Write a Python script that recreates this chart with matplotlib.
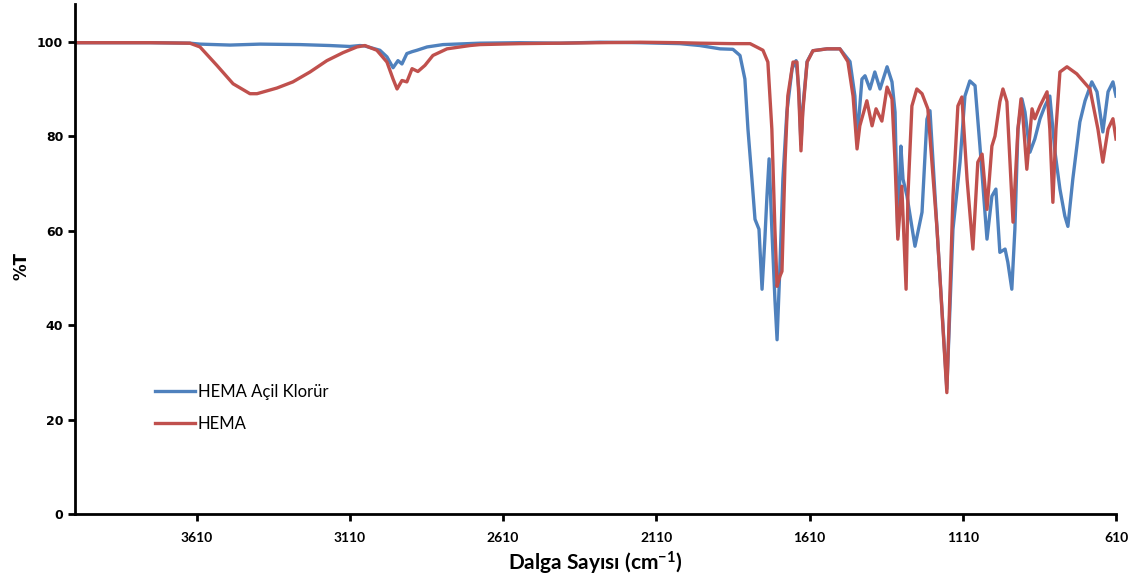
import matplotlib.pyplot as plt

# HEMA Açil Klorür (blue)
wn_acil = [4007, 3762, 3632, 3599, 3501, 3403, 3273, 3175, 3110, 3077, 3061, 3012, 2989,
           2969, 2953, 2940, 2924, 2907, 2891, 2858, 2806, 2685, 2555, 2424, 2294, 2163,
           2033, 1968, 1902, 1860, 1837, 1821, 1811, 1798, 1788, 1775, 1765, 1756, 1749,
           1742, 1733, 1723, 1716, 1707, 1697, 1684, 1667, 1654, 1645, 1638, 1632, 1618,
           1599, 1553, 1511, 1478, 1462, 1455, 1439, 1429, 1413, 1397, 1380, 1357, 1341,
           1331, 1322, 1312, 1305, 1292, 1266, 1243, 1227, 1217, 1194, 1162, 1142, 1119,
           1103, 1087, 1070, 1054, 1031, 1015, 1002, 989, 972, 963, 950, 940, 930, 917,
           907, 891, 875, 858, 842, 826, 809, 793, 777, 767, 751, 728, 711, 689, 672, 653,
           636, 620, 610]
t_acil = [99.8, 99.8, 99.7, 99.5, 99.3, 99.5, 99.4, 99.2, 99.0, 99.2, 99.1, 98.2, 96.8,
          94.5, 96.0, 95.3, 97.5, 97.9, 98.2, 98.9, 99.4, 99.7, 99.8, 99.7, 99.9, 99.8,
          99.6, 99.2, 98.5, 98.4, 97.1, 92.1, 81.5, 70.9, 62.4, 60.3, 47.6, 58.0, 67.3,
          75.2, 60.3, 45.4, 36.9, 51.8, 70.9, 85.1, 94.3, 96.0, 90.0, 78.3, 86.0, 95.8,
          98.1, 98.5, 98.5, 95.8, 88.5, 79.0, 92.1, 92.8, 90.0, 93.6, 90.0, 94.7, 91.5,
          85.1, 58.8, 77.9, 70.9, 67.3, 56.7, 63.9, 83.6, 85.4, 60.3, 26.5, 60.3, 74.5,
          88.5, 91.7, 90.7, 77.9, 58.2, 67.3, 68.8, 55.4, 56.1, 53.3, 47.6, 60.3, 81.5, 87.9,
          85.1, 76.6, 79.4, 83.7, 86.4, 88.5, 76.6, 68.8, 63.1, 60.9, 70.9, 83.0, 87.5, 91.5,
          89.4, 80.9, 89.4, 91.5, 88.5]

# HEMA (red)
wn_hema = [4007, 3762, 3632, 3599, 3544, 3491, 3436, 3413, 3348, 3296, 3240, 3185, 3132,
           3087, 3061, 3022, 2989, 2969, 2956, 2940, 2924, 2907, 2888, 2865, 2839, 2793,
           2718, 2685, 2555, 2424, 2294, 2163, 2033, 1968, 1860, 1804, 1762, 1746, 1733,
           1723, 1716, 1707, 1700, 1690, 1681, 1664, 1651, 1645, 1638, 1632, 1618, 1599,
           1553, 1511, 1485, 1468, 1455, 1446, 1423, 1406, 1393, 1374, 1357, 1341, 1331,
           1322, 1309, 1295, 1289, 1276, 1260, 1243, 1224, 1194, 1162, 1142, 1126, 1113,
           1096, 1077, 1061, 1047, 1031, 1015, 1005, 989, 979, 966, 946, 930, 920, 914, 901,
           884, 875, 858, 835, 826, 816, 806, 793, 770, 738, 695, 669, 653, 636, 620, 610]
t_hema = [99.8, 99.8, 99.7, 98.9, 95.0, 91.1, 89.0, 89.0, 90.2, 91.5, 93.6, 96.0, 97.7,
          98.9, 99.2, 98.2, 95.7, 92.1, 90.0, 91.8, 91.5, 94.3, 93.7, 95.0, 97.1, 98.5,
          99.2, 99.4, 99.6, 99.7, 99.8, 99.9, 99.8, 99.7, 99.6, 99.6, 98.2, 95.7, 81.5,
          60.3, 48.2, 50.3, 51.4, 74.5, 88.5, 95.7, 95.7, 88.5, 76.9, 85.1, 95.7, 98.1,
          98.5, 98.5, 95.8, 88.5, 77.3, 82.2, 87.5, 82.2, 85.8, 83.2, 90.4, 87.9, 74.5,
          58.2, 69.4, 47.6, 67.3, 86.4, 90.0, 89.0, 85.8, 60.3, 25.7, 67.3, 86.4, 88.3,
          70.9, 56.1, 74.5, 76.2, 64.5, 77.9, 80.0, 87.3, 90.0, 87.3, 61.8, 81.5, 87.9, 84.3,
          73.0, 85.8, 83.7, 86.4, 89.4, 81.5, 66.0, 81.5, 93.6, 94.7, 93.2, 90.0, 81.5, 74.5,
          81.5, 83.7, 79.4]

x_ticks = [3610, 3110, 2610, 2110, 1610, 1110, 610]
y_ticks = [0, 20, 40, 60, 80, 100]

calib = ['Lato', 'DejaVu Sans']
plt.rcParams['mathtext.default'] = 'regular'

fig = plt.figure(figsize=(11.41, 5.85), dpi=100)
ax = fig.add_axes([0.0657, 0.1214, 0.9124, 0.8718])

ax.plot(wn_acil, t_acil, color='#4F81BD', lw=2.4, label='HEMA Açil Klorür')
ax.plot(wn_hema, t_hema, color='#C0504D', lw=2.4, label='HEMA')

ax.set_xlim(4007, 610)
ax.set_ylim(0, 108)
ax.set_xticks(x_ticks)
ax.set_yticks(y_ticks)

for s in ['top', 'right']:
    ax.spines[s].set_visible(False)
for s in ['left', 'bottom']:
    ax.spines[s].set_linewidth(2)
    ax.spines[s].set_color('black')
ax.tick_params(axis='both', direction='out', length=5, width=2)
ax.tick_params(axis='x', pad=8)

for lbl in ax.get_xticklabels():
    lbl.set_fontfamily(calib)
    lbl.set_fontweight('bold')
    lbl.set_fontsize(10)
for lbl in ax.get_yticklabels():
    lbl.set_fontweight('bold')
    lbl.set_fontsize(9)

ax.set_xlabel('Dalga Sayısı (cm$^{-1}$)', family=calib, fontweight='bold', fontsize=15, labelpad=4)
fig.text(0.019, 0.545, '%T', rotation=90, ha='center', va='center',
         fontweight='bold', fontsize=12)

ax.legend(loc='upper left', bbox_to_anchor=(0.062, 0.285), frameon=False,
          handlelength=2.4, handletextpad=0.2, labelspacing=1.0,
          prop={'family': calib, 'size': 12})

fig.savefig('out.png', dpi=100)
